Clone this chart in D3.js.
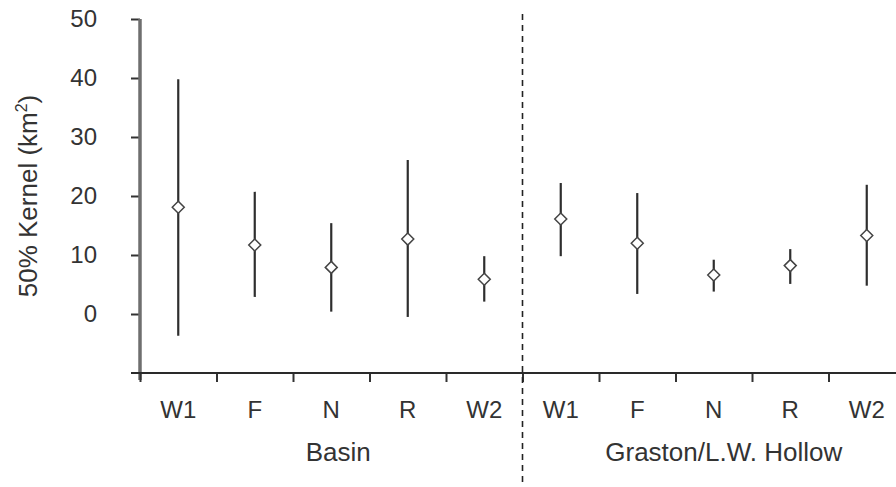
<!DOCTYPE html>
<html>
<head>
<meta charset="utf-8">
<script src="https://cdn.jsdelivr.net/npm/d3@7"></script>
<style>
  html, body { margin: 0; padding: 0; background: #fff; }
  svg { display: block; }
  text { font-family: "Liberation Sans", Arial, sans-serif; fill: #333; }
</style>
</head>
<body>
<svg id="chart" width="896" height="487"></svg>
<script>
// Seasons within each study area
const seasons = ["W1", "F", "N", "R", "W2"];
const groups = ["Basin", "Graston/L.W. Hollow"];

// 50% kernel home range (km²): mean and interval bounds per group, in season order
const basinMean  = [18.1, 11.7, 7.9, 12.7, 5.9];
const basinLow   = [-3.7, 2.9, 0.4, -0.5, 2.1];
const basinHigh  = [39.8, 20.7, 15.4, 26.1, 9.8];
const grastonMean = [16.1, 12.0, 6.6, 8.2, 13.3];
const grastonLow  = [9.8, 3.4, 3.8, 5.1, 4.8];
const grastonHigh = [22.2, 20.5, 9.2, 11.0, 21.9];

const yTicks = [0, 10, 20, 30, 40, 50];

const rows = [];
seasons.forEach((s, i) => rows.push({ group: groups[0], season: s, mean: basinMean[i], lo: basinLow[i], hi: basinHigh[i] }));
seasons.forEach((s, i) => rows.push({ group: groups[1], season: s, mean: grastonMean[i], lo: grastonLow[i], hi: grastonHigh[i] }));
rows.forEach(d => d.key = d.group + "|" + d.season);

const svg = d3.select("#chart");

const x = d3.scaleBand().domain(rows.map(d => d.key)).range([140, 905]).padding(0);
const y = d3.scaleLinear().domain([-10, 50]).range([373, 19]);
const slot = d3.scaleLinear().domain([0, rows.length]).range([140, 905]);

// Y axis
const yAxis = svg.append("g").attr("transform", "translate(140,0)")
  .call(d3.axisLeft(y).tickValues(yTicks).tickSize(9).tickPadding(34).tickFormat(d3.format("d")));
yAxis.select(".domain").remove();
yAxis.selectAll(".tick line").attr("stroke", "#333").attr("stroke-width", 2);
yAxis.selectAll(".tick text").style("font-size", "24px").attr("fill", "#333");
svg.append("line")
  .attr("x1", 140).attr("x2", 140).attr("y1", y(50)).attr("y2", 380)
  .attr("stroke", "#6f6f6f").attr("stroke-width", 3.5);

// X axis with ticks at slot boundaries
const xAxis = svg.append("g").attr("transform", "translate(0," + y(-10) + ")")
  .call(d3.axisBottom(slot).tickValues(d3.range(0, rows.length + 1)).tickSize(9).tickFormat(""));
xAxis.select(".domain").remove();
xAxis.selectAll(".tick line").attr("stroke", "#333").attr("stroke-width", 2);
svg.append("line")
  .attr("x1", 131).attr("x2", 896).attr("y1", y(-10)).attr("y2", y(-10))
  .attr("stroke", "#2a2a2a").attr("stroke-width", 2.2);

// Group divider
svg.append("line")
  .attr("x1", slot(5)).attr("x2", slot(5)).attr("y1", 14).attr("y2", 487)
  .attr("stroke", "#222").attr("stroke-width", 1.6).attr("stroke-dasharray", "6,5");

// Error bars
svg.append("g").selectAll("line").data(rows).join("line")
  .attr("x1", d => x(d.key) + x.bandwidth() / 2)
  .attr("x2", d => x(d.key) + x.bandwidth() / 2)
  .attr("y1", d => y(d.hi)).attr("y2", d => y(d.lo))
  .attr("stroke", "#2e2e2e").attr("stroke-width", 2.2);

// Mean markers (open diamonds)
const r = 6;
svg.append("g").selectAll("path").data(rows).join("path")
  .attr("transform", d => "translate(" + (x(d.key) + x.bandwidth() / 2) + "," + y(d.mean) + ")")
  .attr("d", `M0,${-r}L${r},0L0,${r}L${-r},0Z`)
  .attr("fill", "#fff").attr("stroke", "#444").attr("stroke-width", 1.5);

// Season labels
svg.append("g").selectAll("text").data(rows).join("text")
  .attr("x", d => x(d.key) + x.bandwidth() / 2)
  .attr("y", 418)
  .attr("text-anchor", "middle")
  .style("font-size", "24px")
  .text(d => d.season);

// Group labels
const groupCenter = g => {
  const ks = rows.filter(d => d.group === g).map(d => x(d.key) + x.bandwidth() / 2);
  return d3.mean(ks);
};
svg.append("g").selectAll("text").data(groups).join("text")
  .attr("x", (g, i) => groupCenter(g) + (i === 0 ? 7 : 10))
  .attr("y", 461)
  .attr("text-anchor", "middle")
  .style("font-size", "26px")
  .text(g => g);

// Y axis title
const yt = svg.append("text")
  .attr("transform", "translate(37," + 196 + ") rotate(-90)")
  .attr("text-anchor", "middle")
  .style("font-size", "26px");
yt.append("tspan").text("50% Kernel (km");
yt.append("tspan").attr("dy", -10).style("font-size", "16px").text("2");
yt.append("tspan").attr("dy", 10).text(")");
</script>
</body>
</html>
